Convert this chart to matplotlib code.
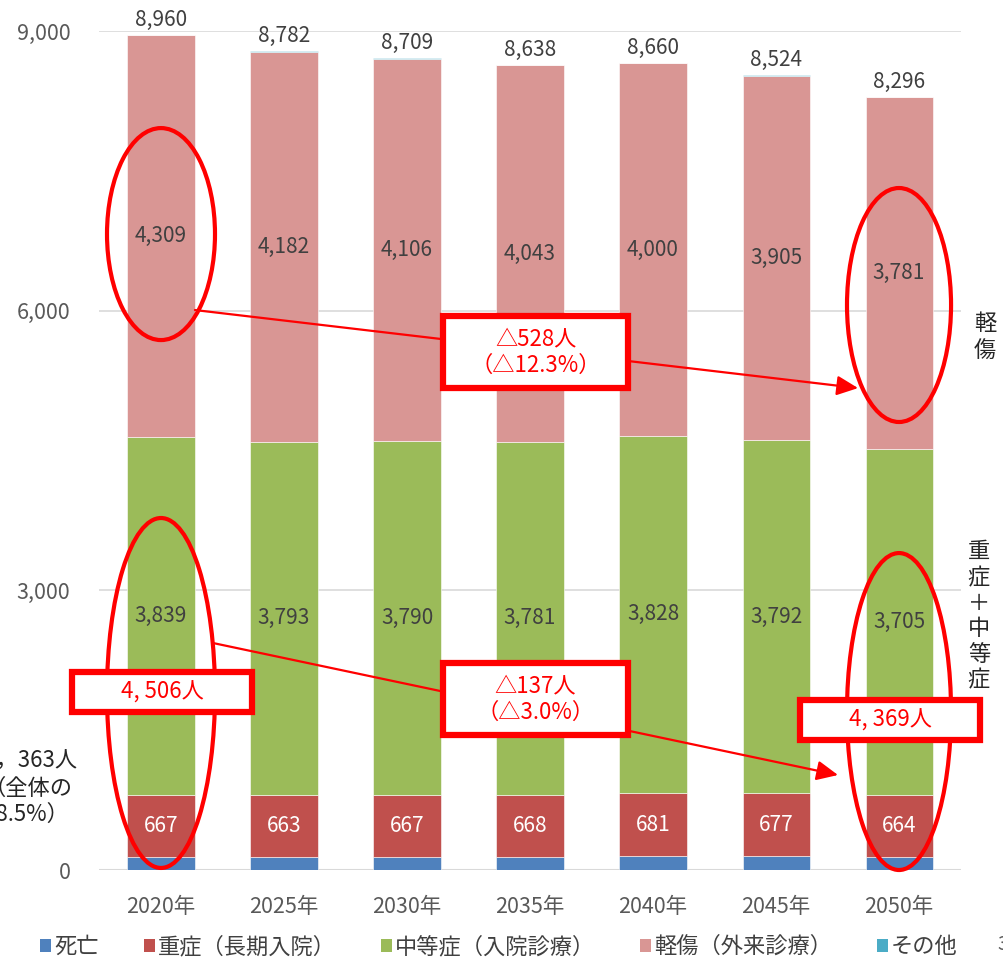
import matplotlib
matplotlib.use('Agg')
import matplotlib.pyplot as plt
from matplotlib.patches import Ellipse, Rectangle, Patch
import numpy as np

plt.rcParams['font.family'] = ['Noto Sans CJK JP', 'DejaVu Sans']

# 年次
years = ['2020年', '2025年', '2030年', '2035年', '2040年', '2045年', '2050年']
# 各区分の人数
death = [141, 140, 142, 142, 147, 146, 142]
severe = [667, 663, 667, 668, 681, 677, 664]
moderate = [3839, 3793, 3790, 3781, 3828, 3792, 3705]
light = [4309, 4182, 4106, 4043, 4000, 3905, 3781]
other = [4, 4, 4, 4, 4, 4, 4]
totals = [8960, 8782, 8709, 8638, 8660, 8524, 8296]
yticks = [0, 3000, 6000, 9000]

series = [
    ('死亡', death, '#4F81BD', None),
    ('重症（長期入院）', severe, '#C0504D', 'white'),
    ('中等症（入院診療）', moderate, '#9BBB59', '#404040'),
    ('軽傷（外来診療）', light, '#D99694', '#404040'),
    ('その他', other, '#4BACC6', None),
]

fig = plt.figure(figsize=(10.04, 9.67), dpi=100)
ax = fig.add_axes([0.0991, 0.1003, 0.8576, 0.8676])
ax.patch.set_visible(False)

x = np.arange(len(years))
width = 0.545
bottom = np.zeros(len(years))
for name, vals, color, tcolor in series:
    vals = np.array(vals, dtype=float)
    ax.bar(x, vals, width, bottom=bottom, color=color, edgecolor='white', linewidth=0.4, zorder=2)
    if tcolor is not None:
        for xi, b, v in zip(x, bottom, vals):
            ax.text(xi, b + v / 2, f'{int(v):,}', ha='center', va='center',
                    fontsize=15, color=tcolor, zorder=3)
    bottom = bottom + vals

# 合計ラベル
for xi, t in zip(x, totals):
    ax.annotate(f'{t:,}', (xi, t), textcoords='offset points', xytext=(0, 3),
                ha='center', va='bottom', fontsize=15, color='#404040', annotation_clip=False)

ax.set_xlim(-0.5, len(years) - 0.5)
ax.set_ylim(0, 9000)
ax.set_yticks(yticks)
ax.yaxis.set_major_formatter(matplotlib.ticker.FuncFormatter(lambda v, p: f'{int(v):,}'))
ax.set_xticks(x)
ax.set_xticklabels(years)
ax.tick_params(axis='both', length=0, labelsize=15.5, labelcolor='#595959')
ax.tick_params(axis='y', pad=21)
ax.tick_params(axis='x', pad=19)
# 目盛線
for yv in yticks[1:]:
    ax.axhline(yv, color='#D9D9D9', linewidth=1.2, zorder=0)
for s in ax.spines:
    ax.spines[s].set_visible(False)
ax.axhline(0, color='#D9D9D9', linewidth=1.5, zorder=1)

red = '#FF0000'
# 楕円
ellipses = [(0, 6822, 0.878, 2274), (0, 1899, 0.878, 3754),
            (6, 6061, 0.846, 2510), (6, 1700, 0.846, 3400)]
for cx, cy, w, h in ellipses:
    ax.add_patch(Ellipse((cx, cy), w, h, fill=False, edgecolor=red, linewidth=3, zorder=5, clip_on=False))

# 矢印
arrows = [((0.276, 6007), (5.667, 5170)), ((0.423, 2435), (5.504, 1019))]
for start, end in arrows:
    ax.annotate('', xy=end, xytext=start,
                arrowprops=dict(arrowstyle='-|>,head_length=1.3,head_width=0.6', color=red, lw=1.6,
                                shrinkA=0, shrinkB=0), zorder=6, annotation_clip=False)

# テキストボックス
boxes = [((2.293, 5170), 1.504, 773, '△528人\n（△12.3%）'),
         ((2.293, 1448), 1.504, 772, '△137人\n（△3.0%）'),
         ((-0.724, 1695), 1.464, 429, '4, 506人'),
         ((5.195, 1395), 1.464, 429, '4, 369人')]
for (bx, by), bw, bh, label in boxes:
    ax.add_patch(Rectangle((bx, by), bw, bh, facecolor='white', edgecolor=red, linewidth=4.5,
                           zorder=7, clip_on=False))
    ax.text(bx + bw / 2, by + bh / 2, label, ha='center', va='center', fontsize=16,
            color=red, zorder=8, linespacing=1.15, clip_on=False)

# 左側の注記（一部切れている）
fig.text(-0.016, 0.185, '4，363人\n（全体の\n48.5%）', ha='left', va='center', fontsize=16,
         color='#262626', linespacing=1.2)

# 右側の縦書き
fig.text(0.981, 0.651, '軽\n傷', ha='center', va='center', fontsize=16, color='#262626', linespacing=1.25)
fig.text(0.975, 0.363, '重\n症\n＋\n中\n等\n症', ha='center', va='center', fontsize=16,
         color='#262626', linespacing=1.15)
fig.text(0.993, 0.012, '3', ha='left', va='bottom', fontsize=14, color='#595959')

handles = [Patch(facecolor=c, edgecolor='none', label=n) for n, _, c, _ in series]
fig.legend(handles=handles, loc='center', bbox_to_anchor=(0.497, 0.021), ncol=5, frameon=False,
           fontsize=16, handlelength=0.5, handleheight=0.5, handletextpad=0.15,
           columnspacing=2.0, labelcolor='#404040')

fig.savefig('out.png', dpi=100)
